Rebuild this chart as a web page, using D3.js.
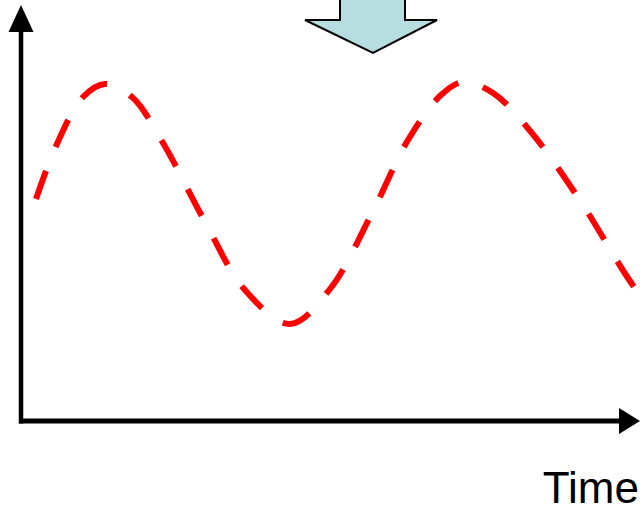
<!DOCTYPE html>
<html>
<head>
<meta charset="utf-8">
<script src="https://cdn.jsdelivr.net/npm/d3@7"></script>
<style>
  html, body { margin: 0; padding: 0; background: #fff; }
  svg { display: block; }
</style>
</head>
<body>
<svg id="chart"></svg>
<script>
// values (arbitrary units)
const time = [15, 35, 62, 84, 111, 142, 183, 224, 269, 309, 351, 387, 420, 442, 472, 510, 560, 603, 622];
const signal = [222, 275, 324, 337, 324, 278, 201, 131, 97, 132, 208, 281, 326, 339, 328, 289, 219, 149, 121];
const axisLabel = 'Time';
const arrowShape = [[340, -2], [340, 20], [305, 20], [373, 53], [437, 20], [405, 20], [405, -2]];

const width = 642, height = 513;
const svg = d3.select('#chart').attr('width', width).attr('height', height);

//set up scaling
const x = d3.scaleLinear().domain([0, 620]).range([21, 641]);
const y = d3.scaleLinear().domain([0, 416]).range([421, 5]);

const head = 22; // arrowhead length
const half = 12.5;

//axes
const axes = svg.append('g');
axes.append('line')
    .attr('x1', x(0)).attr('y1', y(0) + 2.5)
    .attr('x2', x(0)).attr('y2', y(416) + head)
    .attr('stroke', '#000').attr('stroke-width', 4.5);
axes.append('path')
    .attr('d', `M${x(0) - half},${y(416) + head + 5}L${x(0)},${y(416)}L${x(0) + half},${y(416) + head + 5}Z`)
    .attr('fill', '#000');
axes.append('line')
    .attr('x1', x(0) - 2).attr('y1', y(0))
    .attr('x2', x(620) - head).attr('y2', y(0))
    .attr('stroke', '#000').attr('stroke-width', 5);
axes.append('path')
    .attr('d', `M${x(620) - head},${y(0) - half - 0.5}L${x(620) - 1},${y(0)}L${x(620) - head},${y(0) + half + 0.5}Z`)
    .attr('fill', '#000');

//label (kept just inside the bottom edge)
svg.append('text')
    .attr('x', 639).attr('y', 503)
    .attr('text-anchor', 'end')
    .style('font-family', '"Liberation Sans", Arial, sans-serif')
    .style('font-size', '44px')
    .attr('fill', '#000')
    .text(axisLabel);

//dashed wave
const pts = time.map((t, i) => [t, signal[i]]);
const line = d3.line()
    .x(d => x(d[0]))
    .y(d => y(d[1]))
    .curve(d3.curveCatmullRom.alpha(0.5));
svg.append('path')
    .datum(pts)
    .attr('d', line)
    .attr('fill', 'none')
    .attr('stroke', '#ff0000')
    .attr('stroke-width', 6)
    .attr('stroke-dasharray', '30,25.5');

//block arrow at the top
svg.append('path')
    .attr('d', d3.line()(arrowShape) + 'Z')
    .attr('fill', '#b6dee0')
    .attr('stroke', '#000')
    .attr('stroke-width', 2)
    .attr('stroke-linejoin', 'miter');
</script>
</body>
</html>
